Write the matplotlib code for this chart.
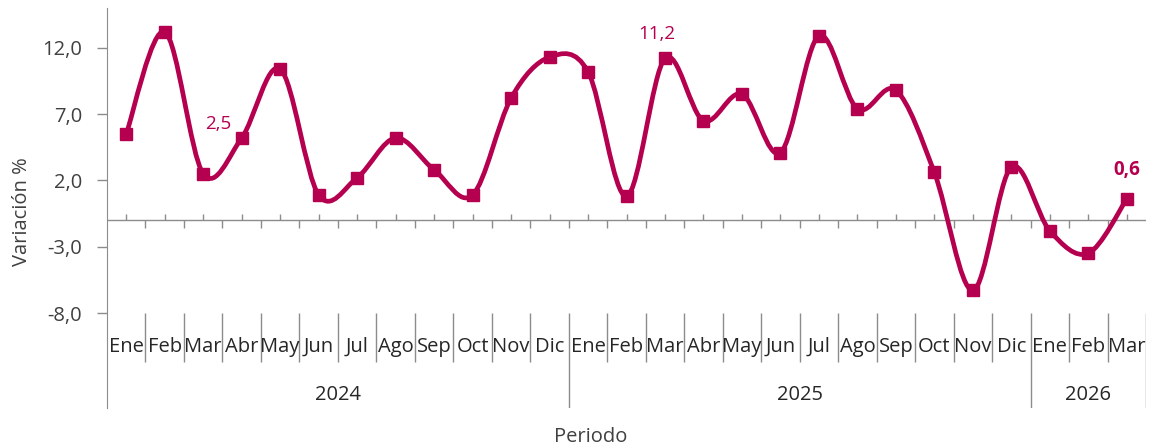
import matplotlib
matplotlib.use('Agg')
import matplotlib.pyplot as plt
import numpy as np
from matplotlib.path import Path
from matplotlib.patches import PathPatch

# Datos: variacion % mensual, Ene 2024 - Mar 2026
meses = ['Ene', 'Feb', 'Mar', 'Abr', 'May', 'Jun', 'Jul', 'Ago', 'Sep', 'Oct', 'Nov', 'Dic',
         'Ene', 'Feb', 'Mar', 'Abr', 'May', 'Jun', 'Jul', 'Ago', 'Sep', 'Oct', 'Nov', 'Dic',
         'Ene', 'Feb', 'Mar']
anios = ['2024', '2025', '2026']
meses_por_anio = [12, 12, 3]
valores = [5.5, 13.2, 2.5, 5.2, 10.4, 0.9, 2.2, 5.2, 2.8, 0.9, 8.2, 11.3,
           10.2, 0.8, 11.2, 6.5, 8.5, 4.1, 12.9, 7.4, 8.8, 2.6, -6.3, 3.0,
           -1.8, -3.5, 0.6]
yticks = [-8.0, -3.0, 2.0, 7.0, 12.0]
# etiqueta: (texto, desplazamiento en px)
etiquetas = {2: ('2,5', (15, 50)), 14: ('11,2', (-8, 24))}
etiqueta_final = '0,6'

COLOR = '#B5004F'
GRIS = '#8C8C8C'
TEXTO = '#404040'
FS = 14.5
plt.rcParams['font.family'] = ['Open Sans', 'DejaVu Sans']

W, H = 1150, 447
PT = 0.72  # puntos por pixel a 100 dpi
fig = plt.figure(figsize=(W / 100, H / 100), dpi=100)
L, R = 107 / W, 1146 / W
ax = fig.add_axes([L, 1 - 313 / H, R - L, (313 - 8) / H])
axl = fig.add_axes([L, 1 - 408 / H, R - L, (408 - 313) / H])

n = len(valores)
x = np.arange(n)
y = np.array(valores)

# linea suavizada tipo Excel (Catmull-Rom -> Bezier)
pts = np.column_stack([x, y]).astype(float)
ext = np.vstack([pts[0], pts, pts[-1]])
verts = [pts[0]]
codes = [Path.MOVETO]
for i in range(n - 1):
    p0, p1, p2, p3 = ext[i], ext[i + 1], ext[i + 2], ext[i + 3]
    verts += [p1 + (p2 - p0) / 6, p2 - (p3 - p1) / 6, p2]
    codes += [Path.CURVE4] * 3
ax.add_patch(PathPatch(Path(verts, codes), fill=False, edgecolor=COLOR, lw=3.4,
                       capstyle='round', joinstyle='round', zorder=3))
ax.plot(x, y, ls='none', marker='s', ms=8, color=COLOR, zorder=4)

ax.set_xlim(-0.5, n - 0.5)
ax.set_ylim(-8, 15)
for s in ['top', 'right', 'bottom']:
    ax.spines[s].set_visible(False)
ax.spines['left'].set_color(GRIS)
ax.set_yticks(yticks)
ax.set_yticklabels([f'{v:.1f}'.replace('.', ',') for v in yticks])
ax.tick_params(axis='y', colors=GRIS, labelcolor=TEXTO, labelsize=FS, length=7,
               width=1, pad=11)
ax.set_xticks([])

# eje horizontal cruzando en -1
cruce = -1.0
ax.axhline(cruce, color=GRIS, lw=1, zorder=2)
ax.vlines(x[1:] - 0.5, cruce - 0.6, cruce, color=GRIS, lw=1, zorder=2)
ax.vlines(x, cruce, cruce + 0.5, color=GRIS, lw=1, zorder=2)

# etiquetas de datos
for i, (t, (dx, dy)) in etiquetas.items():
    ax.annotate(t, (x[i], y[i]), xytext=(dx * PT, dy * PT), textcoords='offset points',
                ha='center', va='center', color=COLOR, fontsize=FS - 1)
ax.annotate(etiqueta_final, (x[-1], y[-1]), xytext=(0, 29 * PT), textcoords='offset points',
            ha='center', va='center', color=COLOR, fontsize=FS - 1, fontweight='bold')

# eje de categorias multinivel
axl.set_xlim(-0.5, n - 0.5)
axl.set_ylim(0, 1)
for s in ['top', 'right', 'bottom']:
    axl.spines[s].set_visible(False)
axl.spines['left'].set_color(GRIS)
axl.set_xticks([])
axl.set_yticks([])
for i, m in enumerate(meses):
    axl.text(x[i], 0.64, m, ha='center', va='center', fontsize=FS, color='#262626')
limites = np.cumsum(meses_por_anio)
inicio = 0
for a, k, fin in zip(anios, meses_por_anio, limites):
    axl.text((inicio + fin - 1) / 2, 0.14, a, ha='center', va='center', fontsize=FS,
             color='#262626')
    inicio = fin
for b in range(1, n + 1):
    top = 0.0 if b in limites else 0.48
    axl.vlines(b - 0.5, top, 1, color=GRIS, lw=1)

fig.text(22 / W, 1 - 212 / H, 'Variación %', rotation=90, ha='center', va='center',
         fontsize=FS, color=TEXTO)
fig.text(591 / W, 1 - 437 / H, 'Periodo', ha='center', va='center', fontsize=FS,
         color=TEXTO)

fig.savefig('out.png', dpi=100)
